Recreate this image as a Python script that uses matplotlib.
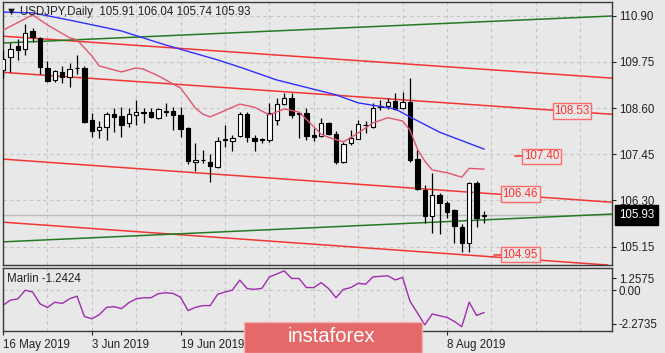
import matplotlib; matplotlib.use("Agg")
import numpy as np, pandas as pd, matplotlib.pyplot as plt
from matplotlib.patches import Rectangle

plt.rcParams["font.family"] = ["Liberation Sans", "DejaVu Sans"]

# ---- data (USDJPY daily, 16 May -> 15 Aug 2019) ----
dates = pd.bdate_range("2019-05-16", periods=66)
opens = [109.55, 109.87, 110.15, 110.07, 110.52, 110.35, 109.60, 109.30, 109.50, 109.37,
         109.61, 109.60, 108.30, 108.05, 108.13, 108.45, 108.40, 108.23, 108.43, 108.50,
         108.50, 108.35, 108.54, 108.53, 108.43, 108.10, 107.26, 107.32, 107.26, 107.13,
         107.80, 107.78, 107.91, 108.45, 107.86, 107.82, 107.81, 108.30, 108.70, 108.85,
         108.46, 108.48, 107.93, 107.91, 108.23, 107.95, 107.26, 107.73, 107.83, 108.19,
         108.13, 108.63, 108.65, 108.78, 108.60, 108.75, 107.33, 106.56, 105.91, 106.44,
         106.24, 106.06, 105.64, 105.24, 106.74, 105.91]
highs = [110.05, 110.22, 110.32, 110.69, 110.59, 110.37, 109.77, 109.55, 109.65, 109.72,
         109.92, 109.65, 108.48, 108.28, 108.50, 108.60, 108.63, 108.60, 108.80, 108.60,
         108.60, 108.60, 108.73, 108.63, 108.63, 108.13, 107.73, 107.56, 107.46, 107.88,
         108.18, 107.93, 108.50, 108.50, 107.93, 107.86, 108.73, 108.85, 108.98, 108.98,
         108.50, 108.60, 108.10, 108.35, 108.25, 108.03, 107.76, 108.05, 108.30, 108.28,
         108.73, 108.80, 108.85, 108.98, 109.00, 109.35, 107.56, 106.69, 106.98, 106.49,
         106.29, 106.09, 105.72, 106.76, 106.79, 106.04]
lows = [109.35, 109.50, 109.80, 109.92, 110.25, 109.45, 109.25, 109.25, 109.22, 109.13,
        109.45, 108.23, 107.88, 107.86, 107.81, 108.00, 107.88, 108.13, 108.18, 108.23,
        108.35, 108.33, 108.40, 108.05, 107.88, 107.21, 107.03, 107.23, 106.76, 107.11,
        107.63, 107.53, 107.88, 107.76, 107.53, 107.73, 107.76, 108.18, 108.68, 108.35,
        107.86, 107.81, 107.78, 107.88, 107.93, 107.21, 107.23, 107.68, 107.83, 107.98,
        108.10, 108.55, 108.58, 108.55, 108.58, 107.26, 106.56, 105.74, 105.49, 105.47,
        105.86, 105.24, 105.02, 105.02, 105.64, 105.74]
closes = [109.82, 110.07, 110.05, 110.47, 110.37, 109.62, 109.27, 109.52, 109.37, 109.57,
          109.59, 108.25, 108.03, 108.13, 108.45, 108.38, 108.18, 108.45, 108.50, 108.49,
          108.38, 108.58, 108.50, 108.43, 108.08, 107.28, 107.31, 107.30, 107.16, 107.78,
          107.82, 107.86, 108.45, 107.88, 107.78, 107.80, 108.48, 108.70, 108.85, 108.43,
          108.49, 107.91, 107.88, 108.23, 107.95, 107.26, 107.71, 107.86, 108.20, 108.18,
          108.60, 108.65, 108.75, 108.58, 108.75, 107.31, 106.59, 105.91, 106.44, 106.24,
          106.01, 105.67, 105.24, 106.74, 105.86, 105.93]

# slow MA (blue) and fast MA (pink), sampled at bar indices
ma_slow_idx = [0, 4, 9, 16, 22, 29, 32, 37, 45, 48, 53, 55, 59, 65]
ma_slow = [110.99, 110.97, 110.79, 110.52, 110.17, 109.80, 109.62, 109.30, 108.93, 108.73,
           108.58, 108.38, 108.00, 107.58]
ma_fast_idx = [0, 4, 6, 9, 10, 12, 13, 16, 18, 19, 21, 24, 26, 27, 28, 29, 32, 34, 36, 38,
               40, 41, 43, 44, 46, 48, 50, 52, 54, 55, 56, 57, 58, 60, 62, 63, 65]
ma_fast = [110.54, 110.92, 110.67, 110.35, 110.30, 109.90, 109.65, 109.50, 109.60, 109.57,
           109.40, 109.10, 108.60, 108.45, 108.38, 108.46, 108.70, 108.62, 108.43, 108.58,
           108.50, 108.32, 107.95, 107.87, 107.76, 107.98, 108.23, 108.36, 108.28, 108.05,
           107.58, 107.28, 107.06, 106.99, 106.88, 107.10, 107.08]

# hand-drawn channel lines: price at bar 0 and at bar 82
red_start = [110.39, 109.49, 107.33, 105.76]
red_end = [109.35, 108.45, 106.26, 104.69]
green_start = [110.22, 105.27]
green_end = [110.89, 105.96]

# price level labels
level_prices = [108.53, 107.40, 106.46, 104.95]
level_pos = [76.9, 72.8, 69.9, 69.9]
level_dash = [False, True, False, True]

marlin = [-0.83, -0.55, -0.47, 0.01, -0.09, -0.75, -0.95, -0.66, -0.73, -0.47,
          -0.32, -1.46, -1.59, -1.36, -0.95, -0.91, -1.02, -0.69, -0.47, -0.41,
          -0.41, -0.18, -0.13, -0.17, -0.38, -1.13, -0.95, -0.85, -0.85, -0.22,
          -0.09, 0.02, 0.58, 0.10, 0.06, 0.12, 0.76, 0.92, 1.10, 0.67,
          0.67, 0.16, 0.16, 0.44, 0.10, -0.41, 0.06, 0.16, 0.40, 0.35,
          0.76, 0.79, 0.82, 0.59, 0.73, -0.60, -1.26, -1.93, -1.32, -1.42,
          -1.51, -1.74, -2.03, -0.66, -1.40, -1.2424]

price_ticks = [110.90, 109.75, 108.60, 107.45, 106.30, 105.15]
hidden_dates = [36, 48]   # date labels covered by the watermark

BG = "#e8e8e8"
GRID = "#c4c4c4"
FS = 8.3
W, H = 665, 353

def px_axes(x0, y0, x1, y1):
    return [x0 / W, 1 - y1 / H, (x1 - x0) / W, (y1 - y0) / H]

fig = plt.figure(figsize=(W / 100, H / 100), dpi=100, facecolor=BG)
ax = fig.add_axes(px_axes(3, 2, 612, 265), facecolor=BG)
ax2 = fig.add_axes(px_axes(3, 268, 612, 331), facecolor=BG, sharex=ax)

o, h, l, c = map(np.asarray, (opens, highs, lows, closes))
x = np.arange(len(o))

# grid
for a in (ax, ax2):
    a.set_xticks(np.arange(0, 83, 6), minor=True)
    a.grid(which="both", axis="x", color=GRID, ls=(0, (3, 3)), lw=0.8)
    for s in a.spines.values():
        s.set_color("#3a3a3a"); s.set_linewidth(1.0)
ax.grid(axis="y", color=GRID, ls=(0, (3, 3)), lw=0.8)
ax.set_axisbelow(True)

# current price line
ax.axhline(c[-1], color="#bcbcbc", lw=1.0, zorder=1)

# channels
for p0, p1 in zip(red_start, red_end):
    ax.axline((0, p0), (82, p1), color="#f33535", lw=1.1, zorder=2)
for p0, p1 in zip(green_start, green_end):
    ax.axline((0, p0), (82, p1), color="#237a23", lw=1.1, zorder=2)

# candles
up = c >= o
ax.vlines(x, l, h, color="black", lw=0.9, zorder=3)
ax.bar(x, np.abs(c - o), bottom=np.minimum(o, c), width=0.6,
       color=np.where(up, "white", "black"), edgecolor="black", lw=0.8, zorder=4)

# moving averages
ax.plot(ma_slow_idx, ma_slow, color="#2f2fff", lw=1.0, zorder=5)
ax.plot(ma_fast_idx, ma_fast, color="#e2566f", lw=1.0, zorder=5)

# level labels
for p, xi, d in zip(level_prices, level_pos, level_dash):
    if d:
        ax.plot([xi - 3.6, xi - 2.5], [p, p], color="#f33535", lw=1.1, zorder=5)
    ax.text(xi, p, f"{p:.2f}", color="#ff3030", fontsize=FS, ha="center", va="center",
            zorder=6, bbox=dict(boxstyle="square,pad=0.15", fc=BG, ec="#ff6a6a", lw=1.0))

ax.set_xlim(0, 82.3)
ax.set_ylim(104.694, 111.241)
ax.yaxis.tick_right()
ax.set_yticks(price_ticks)
ax.set_yticklabels([f"{t:.2f}" for t in price_ticks])
ax.tick_params(axis="y", length=3, width=0.8, pad=2, labelsize=FS, colors="#222")
ax.tick_params(axis="x", which="both", bottom=False, labelbottom=False)

ax.annotate(f"{c[-1]:.2f}", xy=(1, c[-1]), xycoords=("axes fraction", "data"),
            xytext=(5, 0), textcoords="offset points", color="white", fontsize=FS,
            va="center", ha="left", annotation_clip=False,
            bbox=dict(boxstyle="square,pad=0.35", fc="black", ec="black"))

# marlin panel
ax2.plot(x, marlin, color="#a02cb0", lw=1.0)
ax2.axhline(0, color=GRID, ls=(0, (3, 3)), lw=0.8, zorder=0)
ax2.set_ylim(-2.2735, 1.2575)
ax2.yaxis.tick_right()
ax2.set_yticks([0.69, 0.0, -1.88])
ax2.set_yticklabels(["1.2575", "0.00", "-2.2735"])
ax2.tick_params(axis="y", length=3, width=0.8, pad=2, labelsize=FS, colors="#222")
ax2.text(0.007, 0.82, f"Marlin {marlin[-1]:.4f}", transform=ax2.transAxes,
         fontsize=FS, color="#222", va="center")

major = np.arange(0, len(dates), 12)
ax2.set_xticks(major)
ax2.set_xticklabels(["" if i in hidden_dates else f"{dates[i].day} {dates[i]:%b %Y}"
                     for i in major])
plt.setp(ax2.get_xticklabels(), ha="left")
ax2.tick_params(axis="x", which="major", length=3, width=0.8, pad=3, labelsize=FS, colors="#222")
ax2.tick_params(axis="x", which="minor", length=0)

# title
fig.text(11 / W, 1 - 12 / H, "\u25bc", fontsize=8, va="center", ha="center", color="#111")
fig.text(20 / W, 1 - 12 / H, f"USDJPY,Daily  {o[-1]:.2f} {h[-1]:.2f} {l[-1]:.2f} {c[-1]:.2f}",
         fontsize=FS, va="center", ha="left", color="#222")

# watermark logo
fig.add_artist(Rectangle((244 / W, 0), 178 / W, 31 / H, transform=fig.transFigure,
                         fc="#e46a6a", ec="#f3b0b0", lw=1, zorder=10))
fig.text(331 / W, 1 - 337 / H, "instaforex", fontsize=14.5, color="white",
         ha="center", va="center", zorder=11)

fig.savefig("out.png", dpi=100, facecolor=BG)
